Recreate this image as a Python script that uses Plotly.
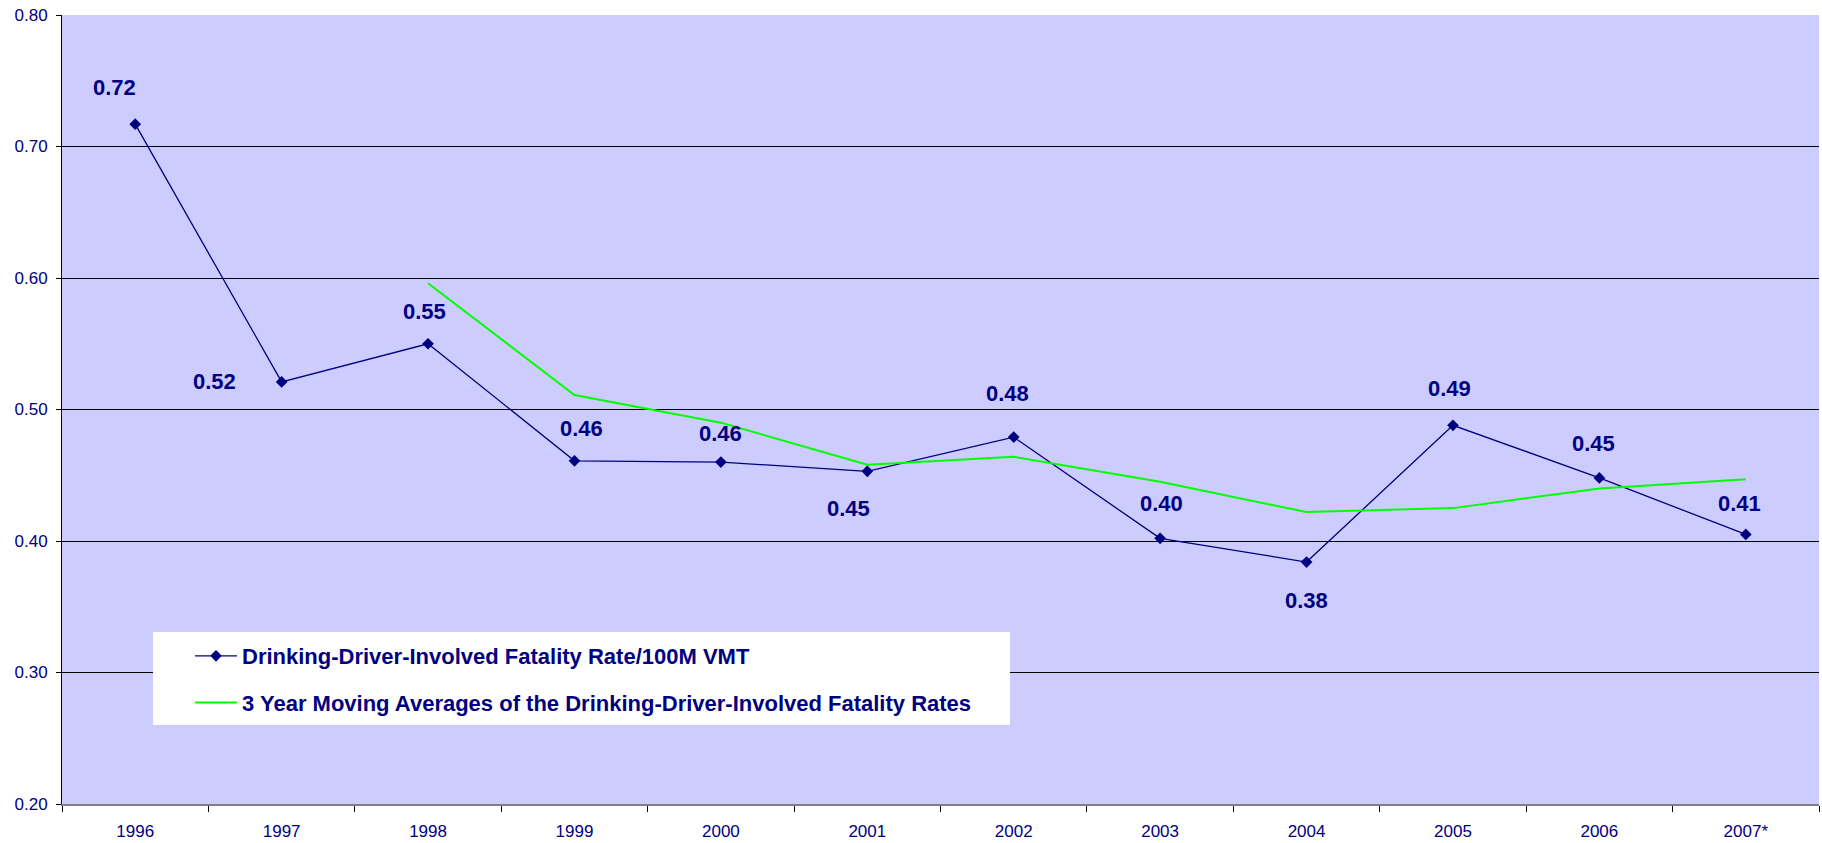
import plotly.graph_objects as go

years = ["1996", "1997", "1998", "1999", "2000", "2001", "2002", "2003", "2004", "2005", "2006", "2007*"]
rate = [0.717, 0.521, 0.550, 0.461, 0.460, 0.453, 0.479, 0.402, 0.384, 0.488, 0.448, 0.405]
avg_years = ["1998", "1999", "2000", "2001", "2002", "2003", "2004", "2005", "2006", "2007*"]
avg3 = [0.596, 0.511, 0.490, 0.458, 0.464, 0.445, 0.422, 0.425, 0.440, 0.447]
label_text = ["0.72", "0.52", "0.55", "0.46", "0.46", "0.45", "0.48", "0.40", "0.38", "0.49", "0.45", "0.41"]
# label pixel offsets (style)
label_dx = [-21, -67, -4, 7, 0, -19, -6, 1, 0, -3, -6, -6]
label_dy = [37, 0, 32, 32, 29, -37, 44, 35, -38, 37, 34, 31]

NAVY = "#000080"
FONT = "Liberation Sans, Arial, sans-serif"

fig = go.Figure()
fig.add_trace(go.Scatter(
    x=years, y=rate, mode="lines+markers",
    name="Drinking-Driver-Involved Fatality Rate/100M VMT",
    line=dict(color=NAVY, width=1.3),
    marker=dict(symbol="diamond", size=9, color=NAVY),
    legendgroup="a",
))
fig.add_trace(go.Scatter(
    x=avg_years, y=avg3, mode="lines",
    name="3 Year Moving Averages of the Drinking-Driver-Involved Fatality Rates",
    line=dict(color="#00FF00", width=2),
    legendgroup="b",
))

for i, (yv, t, dx, dy) in enumerate(zip(rate, label_text, label_dx, label_dy)):
    fig.add_annotation(x=i, y=yv, text=f"<b>{t}</b>", showarrow=False,
                       xshift=dx, yshift=dy,
                       font=dict(family=FONT, size=22, color=NAVY))

# legend white box
fig.add_shape(type="rect", xref="paper", yref="paper",
              x0=(153 - 62) / 1757, x1=(1010 - 62) / 1757,
              y0=(804 - 725) / 789, y1=(804 - 632) / 789,
              fillcolor="white", line=dict(width=0), layer="above")

fig.update_layout(
    width=1822, height=843,
    margin=dict(l=62, r=3, t=15, b=39, autoexpand=False),
    paper_bgcolor="white",
    plot_bgcolor="#CCCCFF",
    font=dict(family=FONT, color=NAVY, size=17),
    showlegend=True,
    legend=dict(
        x=(190 - 62) / 1757, y=(804 - 635) / 789, xanchor="left", yanchor="top",
        bgcolor="rgba(0,0,0,0)", borderwidth=0,
        font=dict(family=FONT, size=22, color=NAVY, weight="bold"),
        tracegroupgap=15, traceorder="grouped", itemwidth=42,
    ),
    xaxis=dict(
        type="category", range=[-0.5, 11.5], automargin=False,
        showgrid=False, showline=True, linecolor="#808080", linewidth=1.5,
        ticks="outside", tickson="boundaries", ticklen=6, tickcolor="black",
        ticklabelstandoff=11,
        tickfont=dict(family=FONT, size=17, color=NAVY),
        zeroline=False,
    ),
    yaxis=dict(
        range=[0.2, 0.8], dtick=0.1, tick0=0.2, tickformat=".2f", automargin=False,
        showgrid=True, gridcolor="black", gridwidth=1,
        showline=True, linecolor="black", linewidth=1,
        ticks="outside", ticklen=5, tickcolor="black",
        ticklabelstandoff=5,
        tickfont=dict(family=FONT, size=17, color=NAVY),
        zeroline=False,
    ),
)

fig.write_html("out.html", config={"displayModeBar": False},
               post_script="document.body.style.margin='0';")
